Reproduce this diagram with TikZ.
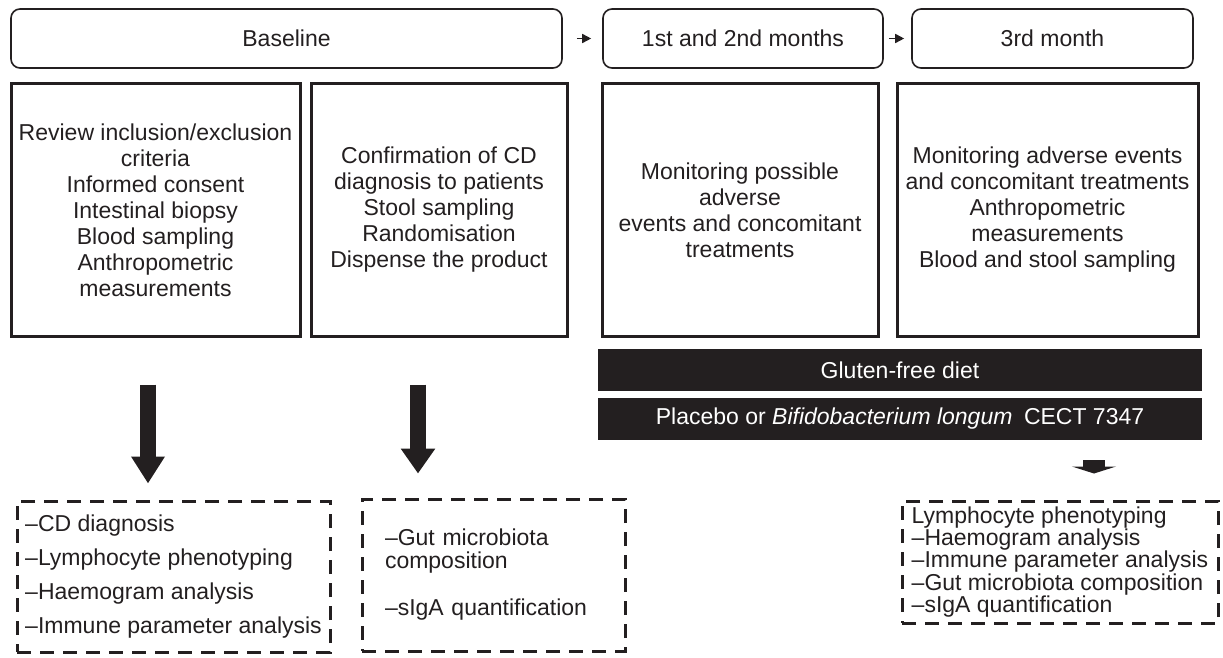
\documentclass[tikz,border=0pt]{standalone}
\usepackage{fontspec}
\setmainfont{Liberation Sans}
\usetikzlibrary{arrows.meta}
\definecolor{ink}{HTML}{231F20}

\begin{document}
\begin{tikzpicture}[x=1pt,y=-1pt,
  every node/.style={text=ink, font=\fontsize{23}{26}\selectfont, inner sep=0pt},
  phase/.style={draw=ink, line width=1.6pt, rounded corners=9pt, minimum height=59pt},
  task/.style={draw=ink, line width=3pt, minimum height=252pt, align=center},
  bar/.style={fill=ink, text=white, minimum width=604pt, minimum height=42pt},
  result/.style={draw=ink, line width=3pt, dash pattern=on 14pt off 9pt, align=left},
  nextarrow/.style={draw=ink, line width=1.6pt, -{Triangle[width=9pt,length=9pt]}},
  bigarrow/.style={draw=ink, line width=16pt, -{Triangle[width=32pt,length=27pt]}}]
\useasboundingbox (0,0) rectangle (1223,658);

% time line
\node[phase, minimum width=551pt] (base) at (286.5,38.5) {Baseline};
\node[phase, minimum width=280pt] (mon12) at (743,38.5) {1st and 2nd months};
\node[phase, minimum width=281pt] (mon3) at (1052.5,38.5) {3rd month};
\draw[nextarrow, shorten <=14pt, shorten >=11pt] (base.east) -- (mon12.west);
\draw[nextarrow, shorten <=5pt, shorten >=7pt] (mon12.east) -- (mon3.west);

% visits
\node[task, minimum width=289pt] (task1) at (155.5,210)
  {Review inclusion/exclusion\\criteria\\Informed consent\\Intestinal biopsy\\Blood sampling\\Anthropometric\\measurements};
\node[task, minimum width=256pt] (task2) at (439,210)
  {Confirmation of CD\\diagnosis to patients\\Stool sampling\\Randomisation\\Dispense the product};
\node[task, minimum width=276pt] (task3) at (740,210)
  {Monitoring possible\\adverse\\events and concomitant\\treatments};
\node[task, minimum width=301pt] (task4) at (1047.5,210)
  {Monitoring adverse events\\and concomitant treatments\\Anthropometric\\measurements\\Blood and stool sampling};

% interventions
\node[bar] (gfd) at (900,370) {Gluten-free diet};
\node[bar] (probio) at (900,419) {Placebo or \textit{Bifidobacterium longum}\hspace{0.5em}CECT 7347};

% analyses
\node[result, minimum width=313pt, minimum height=151pt,
  font=\fontsize{23}{34}\selectfont] (dash1) at (173.5,576.5)
  {--CD diagnosis\\--Lymphocyte phenotyping\\--Haemogram analysis\\--Immune parameter analysis};
\node[result, text width=217pt, inner xsep=23pt, minimum height=152pt,
  font=\fontsize{23}{23}\selectfont] (dash2) at (493.5,575)
  {--Gut microbiota\\composition\\[24pt]--sIgA quantification};
\node[result, minimum width=316pt, minimum height=122pt,
  font=\fontsize{23}{19.5}\selectfont] (dash3) at (1060,562)
  {Lymphocyte phenotyping\\--Haemogram analysis\\--Immune parameter analysis\\--Gut microbiota composition\\--sIgA quantification};

\draw[bigarrow, shorten <=47pt, shorten >=16pt] ([xshift=-7.5pt]task1.south) -- ([xshift=-7.5pt]task1.south |- dash1.north);
\draw[bigarrow, -{Triangle[width=33pt,length=25pt]}, shorten <=47pt, shorten >=24pt] ([xshift=-21pt]task2.south) -- ([xshift=-21pt]task2.south |- dash2.north);
\draw[draw=ink, line width=22pt, -{Triangle[width=44pt,length=7pt]}, shorten <=20pt, shorten >=26pt] ([xshift=194pt]probio.south) -- ([xshift=194pt]probio.south |- dash3.north);

\end{tikzpicture}
\end{document}
